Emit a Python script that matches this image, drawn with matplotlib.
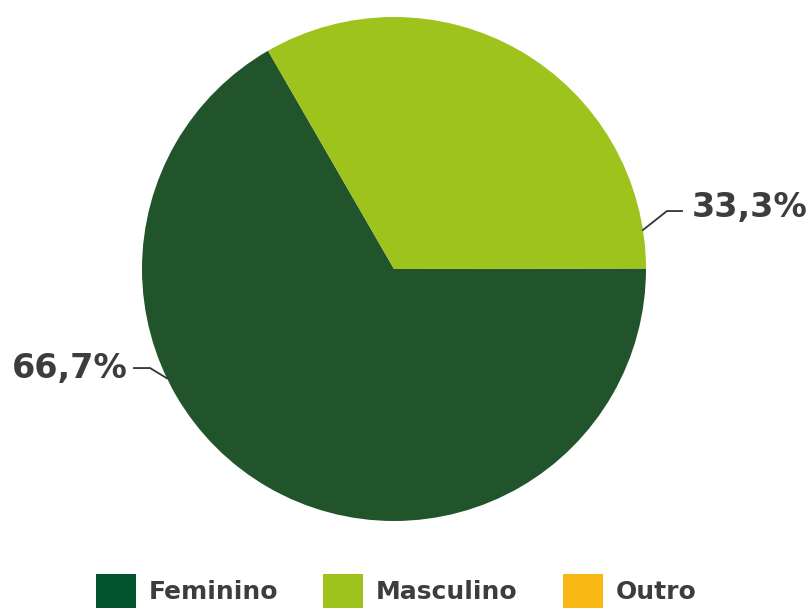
import numpy as np
import matplotlib
matplotlib.use('Agg')
import matplotlib.pyplot as plt
from matplotlib.patches import Patch

categories = ['Feminino', 'Masculino', 'Outro']
values = [66.7, 33.3, 0.0]
labels = ['66,7%', '33,3%', '']
slice_colors = ['#22542b', '#9fc31d', '#f9b914']
legend_colors = ['#01542c', '#9fc31d', '#f9b914']

plt.rcParams['font.family'] = ['DejaVu Sans']
text_color = '#3d3d3d'

fig = plt.figure(figsize=(8.12, 6.10), dpi=100)
W, H = 812, 610
# pie box in pixels: left, top, size
px_l, px_t, px_s = 142, 17, 504
ax = fig.add_axes([px_l / W, (H - px_t - px_s) / H, px_s / W, px_s / H])

wedges, _ = ax.pie(values, colors=slice_colors, startangle=120,
                   counterclock=True, radius=1.0,
                   wedgeprops=dict(linewidth=0))
ax.set_xlim(-1, 1)
ax.set_ylim(-1, 1)
ax.set_aspect('equal')
ax.axis('off')

# connector angles on the pie edge and label anchors (layout only)
label_layout = {
    '66,7%': dict(angle=205.7, elbow=(-0.968, -0.393), end=(-1.032, -0.393),
                  text=(-1.058, -0.393), ha='right'),
    '33,3%': dict(angle=8.9, elbow=(1.083, 0.230), end=(1.143, 0.230),
                  text=(1.183, 0.246), ha='left'),
}
for lab in labels:
    if not lab:
        continue
    lay = label_layout[lab]
    a = np.deg2rad(lay['angle'])
    x0, y0 = np.cos(a), np.sin(a)
    xs = [x0, lay['elbow'][0], lay['end'][0]]
    ys = [y0, lay['elbow'][1], lay['end'][1]]
    ax.plot(xs, ys, color='#333333', lw=1.3, clip_on=False)
    ax.text(lay['text'][0], lay['text'][1], lab, ha=lay['ha'], va='center',
            fontsize=24, fontweight='bold', color=text_color, clip_on=False)

handles = [Patch(facecolor=c, edgecolor='none') for c in legend_colors]
fig.legend(handles, categories, loc='center', ncol=3,
           bbox_to_anchor=(396 / W, (H - 591) / H), frameon=False,
           prop=dict(size=18, weight='bold'), labelcolor=text_color,
           handlelength=1.6, handleheight=1.75, columnspacing=1.8,
           handletextpad=0.52, borderpad=0, borderaxespad=0)

fig.savefig('out.png', dpi=100)
